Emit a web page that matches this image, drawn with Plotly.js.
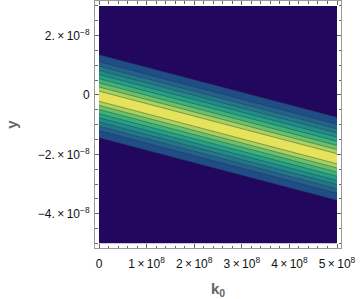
<!DOCTYPE html>
<html>
<head>
<meta charset="utf-8">
<script src="https://cdn.plot.ly/plotly-3.0.1.min.js"></script>
<style>
  html, body { margin: 0; padding: 0; background: #fff; }
  #contour_plot { width: 360px; height: 299px; }
</style>
</head>
<body>
<div id="contour_plot"></div>
<script>
// band plot of the response over k0 (x) and y
let k0_ends = [0, 5e8];                 // plotted k0 range
let y_range = [-5e-8, 3e-8];            // plotted y range
let center_y = [-0.04e-8, -2.15e-8];    // ridge (middle of yellow band) at k0_ends
// distance of each contour line from the ridge, outermost first
let band_offsets = [1.40e-8, 1.16e-8, 1.01e-8, 0.87e-8, 0.73e-8, 0.59e-8, 0.45e-8, 0.31e-8, 0.17e-8];

let x_tick_vals = [0, 1e8, 2e8, 3e8, 4e8, 5e8];
let x_tick_text = ['0', '1\u2009×\u200910<sup>8</sup>', '2\u2009×\u200910<sup>8</sup>', '3\u2009×\u200910<sup>8</sup>', '4\u2009×\u200910<sup>8</sup>', '5\u2009×\u200910<sup>8</sup>'];
let y_tick_vals = [2e-8, 0, -2e-8, -4e-8];
let y_tick_text = ['2.\u2009×\u200910<sup>−8</sup>', '0', '−2.\u2009×\u200910<sup>−8</sup>', '−4.\u2009×\u200910<sup>−8</sup>'];

// colours, background then bands from outside in
let bg_color = '#22075e';
let band_colors = ['#1e4d88', '#22628d', '#23778d', '#218b8b', '#259f86', '#3cb27b', '#6ac16d', '#a6d35e', '#e5e35b'];

let data = [];

data.push({
  x: [k0_ends[0], k0_ends[1], k0_ends[1], k0_ends[0]],
  y: [y_range[1], y_range[1], y_range[0], y_range[0]],
  fill: 'toself', fillcolor: bg_color,
  mode: 'lines', line: {width: 0},
  hoverinfo: 'skip', showlegend: false
});

band_offsets.forEach((d, i) => {
  data.push({
    x: [k0_ends[0], k0_ends[1], k0_ends[1], k0_ends[0]],
    y: [center_y[0] + d, center_y[1] + d, center_y[1] - d, center_y[0] - d],
    fill: 'toself', fillcolor: band_colors[i],
    mode: 'lines', line: {width: 0},
    hoverinfo: 'skip', showlegend: false
  });
});

// contour lines on every band edge
let line_x = [], line_y = [];
band_offsets.forEach(d => {
  [1, -1].forEach(s => {
    line_x.push(k0_ends[0], k0_ends[1], null);
    line_y.push(center_y[0] + s * d, center_y[1] + s * d, null);
  });
});
data.push({
  x: line_x, y: line_y,
  mode: 'lines', line: {color: 'rgba(45,45,45,0.5)', width: 0.8},
  hoverinfo: 'skip', showlegend: false
});

let label_font = {family: 'Liberation Sans, Arial, sans-serif', size: 12, color: '#111'};
let title_font = {family: 'Liberation Sans, Arial, sans-serif', size: 15, color: '#666'};

let layout = {
  width: 360, height: 299,
  margin: {l: 95, r: 19, t: 1, b: 51},
  paper_bgcolor: '#fff', plot_bgcolor: '#fff',
  showlegend: false,
  xaxis: {
    range: [-0.084e8, 5.084e8],
    showgrid: false, zeroline: false,
    showline: true, linecolor: '#999', linewidth: 1, mirror: 'allticks',
    ticks: 'inside', ticklen: 4, tickcolor: '#666',
    tickmode: 'array', tickvals: x_tick_vals, ticktext: x_tick_text,
    tickfont: label_font, ticklabelstandoff: 5,
    minor: {tickmode: 'linear', tick0: 0, dtick: 0.2e8, ticks: 'inside', ticklen: 2.5, tickcolor: '#666'},
    title: {text: '<b>k</b><sub><b>0</b></sub>', font: title_font, standoff: 14}
  },
  yaxis: {
    range: [-5.157e-8, 3.168e-8],
    showgrid: false, zeroline: false,
    showline: true, linecolor: '#999', linewidth: 1, mirror: 'allticks',
    ticks: 'inside', ticklen: 4, tickcolor: '#666',
    tickmode: 'array', tickvals: y_tick_vals, ticktext: y_tick_text,
    tickfont: label_font, ticklabelstandoff: 2,
    minor: {tickmode: 'linear', tick0: 0, dtick: 0.5e-8, ticks: 'inside', ticklen: 2.5, tickcolor: '#666'},
    title: {text: '<b>y</b>', font: title_font, standoff: 16}
  }
};

Plotly.newPlot('contour_plot', data, layout, {displayModeBar: false, staticPlot: true});
</script>
</body>
</html>
